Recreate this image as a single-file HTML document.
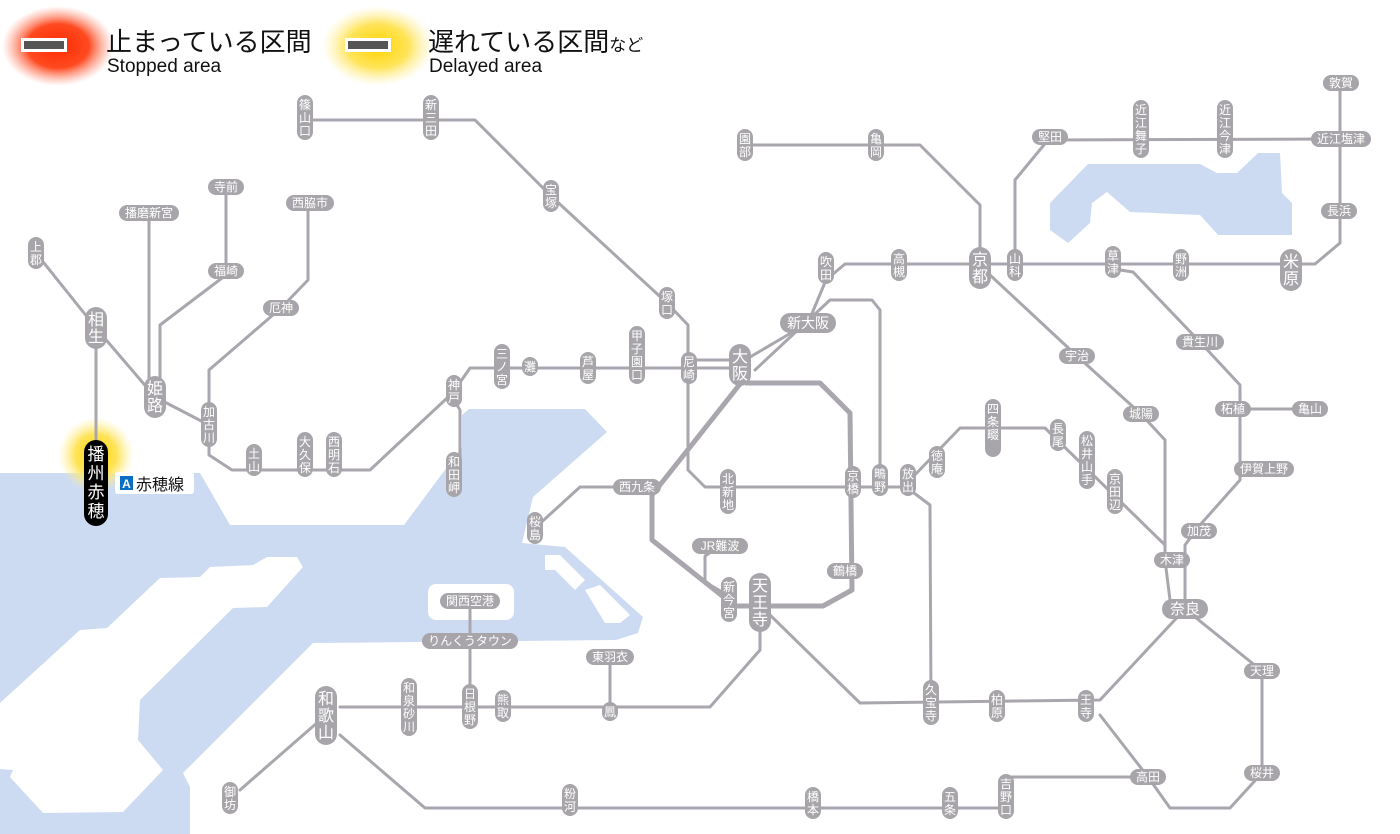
<!DOCTYPE html>
<html><head><meta charset="utf-8">
<style>
html,body{margin:0;padding:0;background:#fff;}
svg{display:block;font-family:"Liberation Sans","Noto Sans CJK JP",sans-serif;}
.l{fill:none;stroke:#aaa6ae;stroke-width:3;stroke-linejoin:round;stroke-linecap:round}
.t{fill:none;stroke:#aaa6ae;stroke-width:5;stroke-linejoin:round}
.p{fill:#a7a5a9}
.s{fill:#fff;font-size:12px;text-anchor:middle}
.b{fill:#fff;font-size:16px;text-anchor:middle}
</style></head><body>
<svg width="1400" height="834" viewBox="0 0 1400 834" xmlns="http://www.w3.org/2000/svg">
<defs>
<radialGradient id="gr"><stop offset="0" stop-color="#ff2a00"/><stop offset="0.55" stop-color="#ff4a20"/><stop offset="1" stop-color="#ff8a70" stop-opacity="0"/></radialGradient>
<radialGradient id="gy"><stop offset="0" stop-color="#ffd400"/><stop offset="0.55" stop-color="#ffe45a"/><stop offset="1" stop-color="#fff0a0" stop-opacity="0"/></radialGradient>
</defs>
<!-- water -->
<g fill="#cddbf2">
<polygon points="0,473 200,473 230,525 404,525 462,447 462,415 469,409 585,409 607,432 533,497 522,543 565,547 643,617 638,633 616,640 313,643 183,773 190,787 190,834 0,834"/>
<polygon points="1050,203 1088,164 1200,164 1217,173 1237,173 1258,153 1280,153 1282,193 1292,203 1292,235 1218,235 1200,215 1130,212 1107,192 1092,203 1090,223 1068,243 1050,230"/>
</g>
<g fill="#fff">
<polygon points="0,703 80,630 107,628 160,578 200,577 210,567 253,565 267,557 297,557 303,567 267,607 233,608 140,700 138,740 163,770 123,812 43,813 10,777 13,770 0,769"/>
<rect x="428" y="584" width="86" height="36" rx="8"/>
<polygon points="545,555 560,555 585,580 575,590 555,570 545,570"/>
<polygon points="585,590 600,585 630,615 620,623 605,623"/>
</g>
<!-- glows -->
<ellipse cx="58" cy="46" rx="56" ry="40" fill="url(#gr)"/>
<ellipse cx="378" cy="46" rx="56" ry="40" fill="url(#gy)"/>
<ellipse cx="96" cy="455" rx="38" ry="38" fill="url(#gy)"/>
<!-- legend -->
<rect x="21" y="38" width="46" height="14" fill="#fff"/><rect x="24" y="41" width="40" height="8" fill="#555"/>
<rect x="345" y="38" width="46" height="14" fill="#fff"/><rect x="348" y="41" width="40" height="8" fill="#555"/>
<text x="106" y="51" font-size="26" fill="#111">止まっている区間</text>
<text x="107" y="72" font-size="19" fill="#111">Stopped area</text>
<text x="428" y="51" font-size="26" fill="#111">遅れている区間<tspan font-size="17">など</tspan></text>
<text x="429" y="72" font-size="19" fill="#111">Delayed area</text>
<!-- lines -->
<path class="l" d="M36,253 L96,328 L155,397 L209,425 L209,455 L232,470 L370,470 L445,400 L454,391"/>
<path class="l" d="M454,391 L470,368 L740,368"/>
<path class="l" d="M454,400 L460,410 L460,475"/>
<path class="l" d="M96,328 L96,482"/>
<path class="l" d="M149,213 L149,397"/>
<path class="l" d="M160,397 L160,325 L226,275 L226,187"/>
<path class="l" d="M209,425 L209,370 L281,308 L308,280 L308,203"/>
<path class="l" d="M305,120 L475,120 L551,196 L667,303 L688,325 L688,470 L705,487 L908,487"/>
<path class="l" d="M693,368 L693,360 L740,360"/>
<path class="t" d="M745,383 L820,383 L850,413 L852,590 L823,606 L735,606 L652,540 L652,495 L740,384"/>
<path class="l" d="M637,487 L580,487 L535,528"/>
<path class="l" d="M720,546 L705,556 L705,582 L729,596"/>
<path class="l" d="M745,360 L808,323 L826,280 L845,264 L1315,264 L1340,243 L1340,83"/>
<path class="l" d="M755,370 L830,300 L872,300 L880,310 L880,480"/>
<path class="l" d="M745,145 L920,145 L980,205 L980,264"/>
<path class="l" d="M990,275 L1077,356 L1141,414 L1165,440 L1165,560 L1170,600"/>
<path class="l" d="M1120,270 L1133,272 L1200,342 L1240,385 L1240,409 L1310,409 M1240,409 L1240,480 L1200,525 L1185,545 L1185,609"/>
<path class="l" d="M1015,264 L1015,180 L1048,140 L1340,139"/>
<path class="l" d="M1185,609 L1100,700 L860,703 L770,615"/>
<path class="l" d="M1185,609 L1262,671 L1262,773 L1230,808 L1170,808 L1148,777 L1100,715"/>
<path class="l" d="M340,735 L425,808 L1000,808 M1006,790 L1006,777 L1148,777"/>
<path class="l" d="M910,490 L930,505 L931,703"/>
<path class="l" d="M910,480 L960,428 L1045,428 L1165,545"/>
<path class="l" d="M760,610 L760,650 L710,707 L340,707"/>
<path class="l" d="M470,601 L470,707 M610,657 L610,707"/>
<path class="l" d="M326,715 L240,790"/>
<!-- horizontal pills -->
<g>
<rect class="p" x="119" y="205" width="60" height="16" rx="8"/><text class="s" x="149" y="217">播磨新宮</text>
<rect class="p" x="208" y="179" width="36" height="16" rx="8"/><text class="s" x="226" y="191">寺前</text>
<rect class="p" x="286" y="195" width="48" height="16" rx="8"/><text class="s" x="310" y="207">西脇市</text>
<rect class="p" x="208" y="263" width="36" height="16" rx="8"/><text class="s" x="226" y="275">福崎</text>
<rect class="p" x="263" y="300" width="36" height="16" rx="8"/><text class="s" x="281" y="312">厄神</text>
<rect class="p" x="780" y="313" width="56" height="20" rx="10"/><text class="s" x="808" y="328" style="font-size:14px">新大阪</text>
<rect class="p" x="613" y="479" width="48" height="16" rx="8"/><text class="s" x="637" y="491">西九条</text>
<rect class="p" x="692" y="538" width="56" height="16" rx="8"/><text class="s" x="720" y="550">JR難波</text>
<rect class="p" x="827" y="563" width="36" height="16" rx="8"/><text class="s" x="845" y="575">鶴橋</text>
<rect class="p" x="440" y="593" width="60" height="16" rx="8"/><text class="s" x="470" y="605">関西空港</text>
<rect class="p" x="422" y="633" width="96" height="16" rx="8"/><text class="s" x="470" y="645">りんくうタウン</text>
<rect class="p" x="586" y="649" width="48" height="16" rx="8"/><text class="s" x="610" y="661">東羽衣</text>
<rect class="p" x="1059" y="348" width="36" height="16" rx="8"/><text class="s" x="1077" y="360">宇治</text>
<rect class="p" x="1123" y="406" width="36" height="16" rx="8"/><text class="s" x="1141" y="418">城陽</text>
<rect class="p" x="1176" y="334" width="48" height="16" rx="8"/><text class="s" x="1200" y="346">貴生川</text>
<rect class="p" x="1215" y="401" width="36" height="16" rx="8"/><text class="s" x="1233" y="413">柘植</text>
<rect class="p" x="1292" y="401" width="36" height="16" rx="8"/><text class="s" x="1310" y="413">亀山</text>
<rect class="p" x="1234" y="461" width="60" height="16" rx="8"/><text class="s" x="1264" y="473">伊賀上野</text>
<rect class="p" x="1181" y="523" width="36" height="16" rx="8"/><text class="s" x="1199" y="535">加茂</text>
<rect class="p" x="1154" y="552" width="36" height="16" rx="8"/><text class="s" x="1172" y="564">木津</text>
<rect class="p" x="1162" y="599" width="46" height="20" rx="10"/><text class="s" x="1185" y="614" style="font-size:15px">奈良</text>
<rect class="p" x="1244" y="663" width="36" height="16" rx="8"/><text class="s" x="1262" y="675">天理</text>
<rect class="p" x="1244" y="765" width="36" height="16" rx="8"/><text class="s" x="1262" y="777">桜井</text>
<rect class="p" x="1130" y="769" width="36" height="16" rx="8"/><text class="s" x="1148" y="781">高田</text>
<rect class="p" x="1032" y="129" width="36" height="16" rx="8"/><text class="s" x="1050" y="141">堅田</text>
<rect class="p" x="1323" y="75" width="36" height="16" rx="8"/><text class="s" x="1341" y="87">敦賀</text>
<rect class="p" x="1311" y="131" width="60" height="16" rx="8"/><text class="s" x="1341" y="143">近江塩津</text>
<rect class="p" x="1321" y="203" width="36" height="16" rx="8"/><text class="s" x="1339" y="215">長浜</text>
</g>
<!-- vertical small pills -->
<g>
<rect class="p" x="28" y="237" width="16" height="32" rx="8"/><text class="s" x="36" y="251">上</text><text class="s" x="36" y="264">郡</text>
<rect class="p" x="201" y="402" width="16" height="45" rx="8"/><text class="s" x="209" y="416">加</text><text class="s" x="209" y="429">古</text><text class="s" x="209" y="442">川</text>
<rect class="p" x="246" y="444" width="16" height="32" rx="8"/><text class="s" x="254" y="458">土</text><text class="s" x="254" y="471">山</text>
<rect class="p" x="297" y="432" width="16" height="45" rx="8"/><text class="s" x="305" y="446">大</text><text class="s" x="305" y="459">久</text><text class="s" x="305" y="472">保</text>
<rect class="p" x="326" y="432" width="16" height="45" rx="8"/><text class="s" x="334" y="446">西</text><text class="s" x="334" y="459">明</text><text class="s" x="334" y="472">石</text>
<rect class="p" x="446" y="375" width="16" height="32" rx="8"/><text class="s" x="454" y="389">神</text><text class="s" x="454" y="402">戸</text>
<rect class="p" x="446" y="452" width="16" height="45" rx="8"/><text class="s" x="454" y="466">和</text><text class="s" x="454" y="479">田</text><text class="s" x="454" y="492">岬</text>
<rect class="p" x="494" y="344" width="16" height="45" rx="8"/><text class="s" x="502" y="358">三</text><text class="s" x="502" y="371">ノ</text><text class="s" x="502" y="384">宮</text>
<rect class="p" x="522" y="357" width="16" height="19" rx="8"/><text class="s" x="530" y="371">灘</text>
<rect class="p" x="580" y="352" width="16" height="32" rx="8"/><text class="s" x="588" y="366">芦</text><text class="s" x="588" y="379">屋</text>
<rect class="p" x="629" y="326" width="16" height="58" rx="8"/><text class="s" x="637" y="340">甲</text><text class="s" x="637" y="353">子</text><text class="s" x="637" y="366">園</text><text class="s" x="637" y="379">口</text>
<rect class="p" x="681" y="352" width="16" height="32" rx="8"/><text class="s" x="689" y="366">尼</text><text class="s" x="689" y="379">崎</text>
<rect class="p" x="297" y="95" width="16" height="45" rx="8"/><text class="s" x="305" y="109">篠</text><text class="s" x="305" y="122">山</text><text class="s" x="305" y="135">口</text>
<rect class="p" x="423" y="95" width="16" height="45" rx="8"/><text class="s" x="431" y="109">新</text><text class="s" x="431" y="122">三</text><text class="s" x="431" y="135">田</text>
<rect class="p" x="543" y="180" width="16" height="32" rx="8"/><text class="s" x="551" y="194">宝</text><text class="s" x="551" y="207">塚</text>
<rect class="p" x="659" y="287" width="16" height="32" rx="8"/><text class="s" x="667" y="301">塚</text><text class="s" x="667" y="314">口</text>
<rect class="p" x="818" y="252" width="16" height="32" rx="8"/><text class="s" x="826" y="266">吹</text><text class="s" x="826" y="279">田</text>
<rect class="p" x="891" y="249" width="16" height="32" rx="8"/><text class="s" x="899" y="263">高</text><text class="s" x="899" y="276">槻</text>
<rect class="p" x="1007" y="249" width="16" height="32" rx="8"/><text class="s" x="1015" y="263">山</text><text class="s" x="1015" y="276">科</text>
<rect class="p" x="1105" y="246" width="16" height="32" rx="8"/><text class="s" x="1113" y="260">草</text><text class="s" x="1113" y="273">津</text>
<rect class="p" x="1173" y="249" width="16" height="32" rx="8"/><text class="s" x="1181" y="263">野</text><text class="s" x="1181" y="276">洲</text>
<rect class="p" x="1133" y="100" width="16" height="58" rx="8"/><text class="s" x="1141" y="114">近</text><text class="s" x="1141" y="127">江</text><text class="s" x="1141" y="140">舞</text><text class="s" x="1141" y="153">子</text>
<rect class="p" x="1217" y="100" width="16" height="58" rx="8"/><text class="s" x="1225" y="114">近</text><text class="s" x="1225" y="127">江</text><text class="s" x="1225" y="140">今</text><text class="s" x="1225" y="153">津</text>
<rect class="p" x="737" y="129" width="16" height="32" rx="8"/><text class="s" x="745" y="143">園</text><text class="s" x="745" y="156">部</text>
<rect class="p" x="868" y="129" width="16" height="32" rx="8"/><text class="s" x="876" y="143">亀</text><text class="s" x="876" y="156">岡</text>
<rect class="p" x="720" y="469" width="16" height="45" rx="8"/><text class="s" x="728" y="483">北</text><text class="s" x="728" y="496">新</text><text class="s" x="728" y="509">地</text>
<rect class="p" x="845" y="466" width="16" height="32" rx="8"/><text class="s" x="853" y="480">京</text><text class="s" x="853" y="493">橋</text>
<rect class="p" x="872" y="464" width="16" height="32" rx="8"/><text class="s" x="880" y="478">鴫</text><text class="s" x="880" y="491">野</text>
<rect class="p" x="900" y="464" width="16" height="32" rx="8"/><text class="s" x="908" y="478">放</text><text class="s" x="908" y="491">出</text>
<rect class="p" x="929" y="446" width="16" height="32" rx="8"/><text class="s" x="937" y="460">徳</text><text class="s" x="937" y="473">庵</text>
<rect class="p" x="985" y="399" width="16" height="58" rx="8"/><text class="s" x="993" y="413">四</text><text class="s" x="993" y="426">条</text><text class="s" x="993" y="439">畷</text>
<rect class="p" x="1050" y="419" width="16" height="32" rx="8"/><text class="s" x="1058" y="433">長</text><text class="s" x="1058" y="446">尾</text>
<rect class="p" x="1079" y="431" width="16" height="58" rx="8"/><text class="s" x="1087" y="445">松</text><text class="s" x="1087" y="458">井</text><text class="s" x="1087" y="471">山</text><text class="s" x="1087" y="484">手</text>
<rect class="p" x="1107" y="469" width="16" height="45" rx="8"/><text class="s" x="1115" y="483">京</text><text class="s" x="1115" y="496">田</text><text class="s" x="1115" y="509">辺</text>
<rect class="p" x="527" y="512" width="16" height="32" rx="8"/><text class="s" x="535" y="526">桜</text><text class="s" x="535" y="539">島</text>
<rect class="p" x="721" y="577" width="16" height="45" rx="8"/><text class="s" x="729" y="591">新</text><text class="s" x="729" y="604">今</text><text class="s" x="729" y="617">宮</text>
<rect class="p" x="923" y="680" width="16" height="45" rx="8"/><text class="s" x="931" y="694">久</text><text class="s" x="931" y="707">宝</text><text class="s" x="931" y="720">寺</text>
<rect class="p" x="989" y="690" width="16" height="32" rx="8"/><text class="s" x="997" y="704">柏</text><text class="s" x="997" y="717">原</text>
<rect class="p" x="1078" y="690" width="16" height="32" rx="8"/><text class="s" x="1086" y="704">王</text><text class="s" x="1086" y="717">寺</text>
<rect class="p" x="401" y="678" width="16" height="58" rx="8"/><text class="s" x="409" y="692">和</text><text class="s" x="409" y="705">泉</text><text class="s" x="409" y="718">砂</text><text class="s" x="409" y="731">川</text>
<rect class="p" x="462" y="684" width="16" height="45" rx="8"/><text class="s" x="470" y="698">日</text><text class="s" x="470" y="711">根</text><text class="s" x="470" y="724">野</text>
<rect class="p" x="495" y="690" width="16" height="32" rx="8"/><text class="s" x="503" y="704">熊</text><text class="s" x="503" y="717">取</text>
<rect class="p" x="602" y="702" width="16" height="19" rx="8"/><text class="s" x="610" y="716">鳳</text>
<rect class="p" x="222" y="782" width="16" height="32" rx="8"/><text class="s" x="230" y="796">御</text><text class="s" x="230" y="809">坊</text>
<rect class="p" x="562" y="784" width="16" height="32" rx="8"/><text class="s" x="570" y="798">粉</text><text class="s" x="570" y="811">河</text>
<rect class="p" x="805" y="787" width="16" height="32" rx="8"/><text class="s" x="813" y="801">橋</text><text class="s" x="813" y="814">本</text>
<rect class="p" x="942" y="787" width="16" height="32" rx="8"/><text class="s" x="950" y="801">五</text><text class="s" x="950" y="814">条</text>
<rect class="p" x="998" y="774" width="16" height="45" rx="8"/><text class="s" x="1006" y="788">吉</text><text class="s" x="1006" y="801">野</text><text class="s" x="1006" y="814">口</text>
</g>
<!-- big pills -->
<g>
<rect class="p" x="85" y="307" width="22" height="42" rx="11"/><text class="b" x="96" y="325">相</text><text class="b" x="96" y="342">生</text>
<rect class="p" x="144" y="376" width="22" height="42" rx="11"/><text class="b" x="155" y="394">姫</text><text class="b" x="155" y="411">路</text>
<rect class="p" x="729" y="344" width="22" height="42" rx="11"/><text class="b" x="740" y="362">大</text><text class="b" x="740" y="379">阪</text>
<rect class="p" x="969" y="247" width="22" height="42" rx="11"/><text class="b" x="980" y="265">京</text><text class="b" x="980" y="282">都</text>
<rect class="p" x="1280" y="249" width="22" height="42" rx="11"/><text class="b" x="1291" y="267">米</text><text class="b" x="1291" y="284">原</text>
<rect class="p" x="749" y="573" width="22" height="59" rx="11"/><text class="b" x="760" y="591">天</text><text class="b" x="760" y="608">王</text><text class="b" x="760" y="625">寺</text>
<rect class="p" x="315" y="686" width="22" height="59" rx="11"/><text class="b" x="326" y="704">和</text><text class="b" x="326" y="721">歌</text><text class="b" x="326" y="738">山</text>
<rect x="84" y="440" width="24" height="86" rx="12" fill="#000"/><text class="b" x="96" y="460" style="font-size:17px">播</text><text class="b" x="96" y="479" style="font-size:17px">州</text><text class="b" x="96" y="498" style="font-size:17px">赤</text><text class="b" x="96" y="517" style="font-size:17px">穂</text>
</g>
<!-- line label -->
<rect x="115" y="472" width="79" height="22" rx="3" fill="#fff"/>
<rect x="120" y="476" width="13" height="14" fill="#0a6fc2"/>
<text x="126.5" y="488" font-size="12" fill="#fff" text-anchor="middle" font-weight="bold">A</text>
<text x="136" y="490" font-size="16" fill="#111">赤穂線</text>
</svg>
</body></html>
